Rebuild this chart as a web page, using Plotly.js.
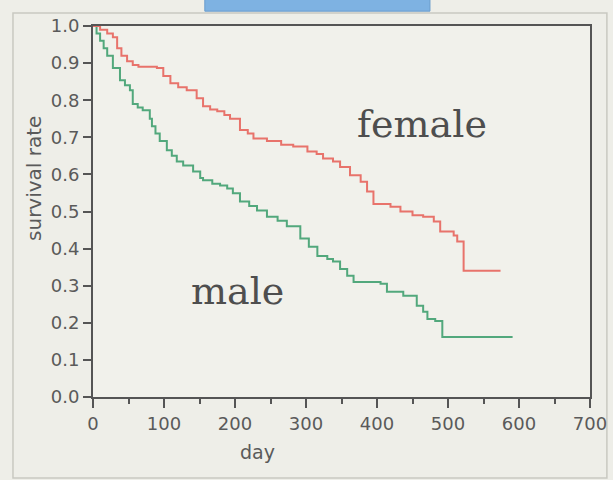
<!DOCTYPE html>
<html>
<head>
<meta charset="utf-8">
<script src="https://cdn.plot.ly/plotly-3.0.1.min.js"></script>
<style>html,body{margin:0;padding:0;background:#eeeee8;}</style>
</head>
<body>
<div id="chart" style="width:613px;height:480px;"></div>
<script>
// Female (red) Kaplan-Meier steps
const femaleDays = [0,10,20,28,34,40,48,56,64,90,99,109,120,132,146,155,165,175,185,193,207,218,226,245,265,282,302,315,324,338,348,362,377,386,395,419,433,450,465,480,489,508,513,522,574];
const femaleSurv = [1.0,0.99,0.98,0.97,0.94,0.92,0.905,0.895,0.89,0.887,0.865,0.846,0.835,0.827,0.805,0.784,0.775,0.77,0.76,0.75,0.72,0.71,0.697,0.69,0.68,0.675,0.662,0.655,0.643,0.635,0.62,0.598,0.58,0.554,0.52,0.513,0.5,0.49,0.486,0.473,0.446,0.435,0.419,0.34,0.34];
// Male (green) Kaplan-Meier steps
const maleDays = [0,5,10,15,20,28,38,45,52,56,63,70,80,83,88,94,104,111,118,127,141,151,155,168,179,189,197,207,220,231,245,260,273,292,304,316,330,338,348,358,367,405,414,437,456,465,471,482,492,591];
const maleSurv = [1.0,0.98,0.96,0.94,0.92,0.887,0.854,0.84,0.827,0.79,0.78,0.773,0.75,0.73,0.71,0.69,0.665,0.65,0.635,0.624,0.608,0.59,0.584,0.575,0.57,0.562,0.549,0.527,0.515,0.503,0.486,0.475,0.46,0.427,0.405,0.38,0.372,0.365,0.345,0.327,0.31,0.305,0.284,0.273,0.246,0.23,0.21,0.205,0.162,0.162];
const groupLabels = ['female','male'];
const xTicks = [0,100,200,300,400,500,600,700];
const yTicks = [0.0,0.1,0.2,0.3,0.4,0.5,0.6,0.7,0.8,0.9,1.0];

const traces = [
  {x: maleDays, y: maleSurv, type:'scatter', mode:'lines', line:{shape:'hv', color:'#52a87c', width:2}, name: groupLabels[1], hoverinfo:'skip'},
  {x: femaleDays, y: femaleSurv, type:'scatter', mode:'lines', line:{shape:'hv', color:'#e8736b', width:2}, name: groupLabels[0], hoverinfo:'skip'}
];

const tickFont = {family:'DejaVu Sans', size:18, color:'#5a5a5a'};
const layout = {
  width:613, height:480,
  margin:{l:93, r:23, t:26, b:83, pad:0},
  paper_bgcolor:'#eeeee8',
  plot_bgcolor:'#f1f1eb',
  showlegend:false,
  xaxis:{
    range:[0,700], tickvals:xTicks, ticktext:xTicks.map(String),
    ticks:'outside', ticklen:9, tickwidth:2, tickcolor:'#555',
    minor:{dtick:50, ticks:'outside', ticklen:5, tickwidth:2, tickcolor:'#555'},
    showline:true, linecolor:'#555', linewidth:2, mirror:true,
    showgrid:false, zeroline:false, tickfont:tickFont, fixedrange:true
  },
  yaxis:{
    range:[0,1.0], tickvals:yTicks, ticktext:yTicks.map(v=>v.toFixed(1)),
    ticks:'outside', ticklen:8, tickwidth:2, tickcolor:'#555',
    showline:true, linecolor:'#555', linewidth:2, mirror:true,
    showgrid:false, zeroline:false, tickfont:tickFont, fixedrange:true
  },
  shapes:[
    {type:'rect', xref:'paper', yref:'paper', x0:-0.161, x1:1.034, y0:-0.218, y1:1.035,
     line:{color:'#c9c9c1', width:1.5}, fillcolor:'rgba(0,0,0,0)', layer:'below'},
    {type:'rect', xref:'paper', yref:'paper', x0:0.225, x1:0.678, y0:1.040, y1:1.12,
     line:{color:'#6a9ccc', width:1}, fillcolor:'#7eb2e2', layer:'above'}
  ],
  annotations:[
    {text:'survival rate', xref:'paper', yref:'paper', x:-0.119, y:0.59, textangle:-90,
     xanchor:'center', yanchor:'middle',
     showarrow:false, font:{family:'DejaVu Sans', size:20, color:'#5a5a5a'}},
    {text:'day', xref:'paper', yref:'paper', x:0.330, y:-0.148,
     xanchor:'center', yanchor:'middle',
     showarrow:false, font:{family:'DejaVu Sans', size:19, color:'#5a5a5a'}},
    {text:groupLabels[0], xref:'x', yref:'y', x:463, y:0.736,
     xanchor:'center', yanchor:'middle',
     showarrow:false, font:{family:'DejaVu Serif', size:38, color:'#4e4e4e'}},
    {text:groupLabels[1], xref:'x', yref:'y', x:204, y:0.286,
     xanchor:'center', yanchor:'middle',
     showarrow:false, font:{family:'DejaVu Serif', size:38, color:'#4e4e4e'}}
  ]
};
Plotly.newPlot('chart', traces, layout, {displayModeBar:false, staticPlot:true});
</script>
</body>
</html>
